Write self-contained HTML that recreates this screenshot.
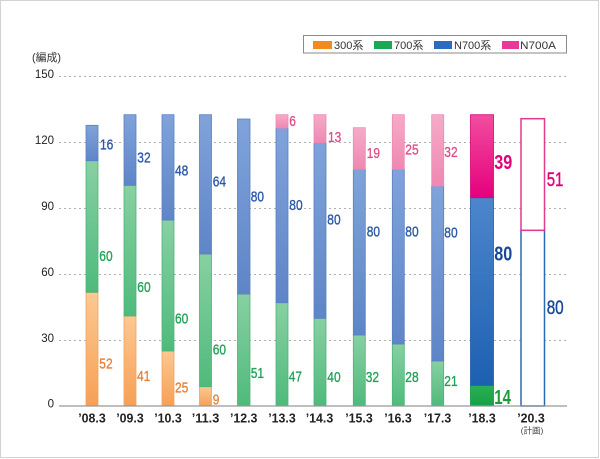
<!DOCTYPE html>
<html>
<head>
<meta charset="utf-8">
<style>
html,body{margin:0;padding:0;background:#fff;}
body{width:600px;height:459px;overflow:hidden;position:relative;}
.frame{position:absolute;left:0;top:0;width:599px;height:458px;box-sizing:border-box;border:1px solid #d2d2d2;}
svg{position:absolute;left:0;top:0;}
text{font-family:"Liberation Sans","Noto Sans CJK JP",sans-serif;}
</style>
</head>
<body>
<div class="frame"></div>
<svg width="600" height="459" viewBox="0 0 600 459" xmlns="http://www.w3.org/2000/svg">
<defs>
<linearGradient id="gO" x1="0" y1="0" x2="0" y2="1"><stop offset="0" stop-color="#fcc892"/><stop offset="1" stop-color="#f6a056"/></linearGradient>
<linearGradient id="gG" x1="0" y1="0" x2="0" y2="1"><stop offset="0" stop-color="#88d0a2"/><stop offset="1" stop-color="#4fba7c"/></linearGradient>
<linearGradient id="gB" x1="0" y1="0" x2="0" y2="1"><stop offset="0" stop-color="#80a3da"/><stop offset="1" stop-color="#5e85c7"/></linearGradient>
<linearGradient id="gP" x1="0" y1="0" x2="0" y2="1"><stop offset="0" stop-color="#f6abc8"/><stop offset="1" stop-color="#ef88b2"/></linearGradient>
<linearGradient id="gP2" x1="0" y1="0" x2="0" y2="1"><stop offset="0" stop-color="#f24d9f"/><stop offset="1" stop-color="#e6007d"/></linearGradient>
<linearGradient id="gB2" x1="0" y1="0" x2="0" y2="1"><stop offset="0" stop-color="#4d86cc"/><stop offset="1" stop-color="#1d60b1"/></linearGradient>
<linearGradient id="gG2" x1="0" y1="0" x2="0" y2="1"><stop offset="0" stop-color="#2ab055"/><stop offset="1" stop-color="#17a045"/></linearGradient>
</defs>

<text x="32" y="61" font-size="11" fill="#333" textLength="29" lengthAdjust="spacingAndGlyphs">(編成)</text>

<g stroke="#b0b0b0" stroke-width="1" stroke-dasharray="2 3">
<line x1="59" y1="76.5" x2="567" y2="76.5"/>
<line x1="59" y1="142.5" x2="567" y2="142.5"/>
<line x1="59" y1="208.5" x2="567" y2="208.5"/>
<line x1="59" y1="274.5" x2="567" y2="274.5"/>
<line x1="59" y1="340.5" x2="567" y2="340.5"/>
</g>

<g font-size="11.5" fill="#222" text-anchor="end">
<text x="54" y="78">150</text>
<text x="54" y="144">120</text>
<text x="54" y="210">90</text>
<text x="54" y="276">60</text>
<text x="54" y="342">30</text>
<text x="54" y="407.5">0</text>
</g>

<rect x="303.5" y="35.5" width="263" height="17.5" fill="#fff" stroke="#8a8a8a" stroke-width="1"/>
<rect x="313" y="41" width="19" height="8" fill="#f28a1e"/>
<rect x="374" y="41" width="18" height="8" fill="#1aa858"/>
<rect x="434" y="41" width="18" height="8" fill="#2d6bc0"/>
<rect x="502" y="41" width="17" height="8" fill="#e8389a"/>
<g font-size="11" fill="#333">
<text x="334" y="49">300系</text>
<text x="394" y="49">700系</text>
<text x="454" y="49">N700系</text>
<text x="520" y="49" textLength="36" lengthAdjust="spacingAndGlyphs">N700A</text>
</g>

<g stroke-width="0.8">
<rect x="86" y="292.3" width="12" height="113.7" fill="url(#gO)" stroke="#f2a460"/>
<rect x="86" y="160.7" width="12" height="131.6" fill="url(#gG)" stroke="#4cb579"/>
<rect x="86" y="125.3" width="12" height="35.4" fill="url(#gB)" stroke="#5a80c2"/>
<rect x="124" y="316" width="12" height="90" fill="url(#gO)" stroke="#f2a460"/>
<rect x="124" y="185.3" width="12" height="130.7" fill="url(#gG)" stroke="#4cb579"/>
<rect x="124" y="114.7" width="12" height="70.6" fill="url(#gB)" stroke="#5a80c2"/>
<rect x="162" y="351" width="12" height="55" fill="url(#gO)" stroke="#f2a460"/>
<rect x="162" y="220" width="12" height="131" fill="url(#gG)" stroke="#4cb579"/>
<rect x="162" y="114.7" width="12" height="105.3" fill="url(#gB)" stroke="#5a80c2"/>
<rect x="199.5" y="386.7" width="12" height="19.3" fill="url(#gO)" stroke="#f2a460"/>
<rect x="199.5" y="254" width="12" height="132.7" fill="url(#gG)" stroke="#4cb579"/>
<rect x="199.5" y="114.7" width="12" height="139.3" fill="url(#gB)" stroke="#5a80c2"/>
<rect x="237.5" y="294" width="12.5" height="112" fill="url(#gG)" stroke="#4cb579"/>
<rect x="237.5" y="119" width="12.5" height="175" fill="url(#gB)" stroke="#5a80c2"/>
<rect x="276" y="302.7" width="12" height="103.3" fill="url(#gG)" stroke="#4cb579"/>
<rect x="276" y="128" width="12" height="174.7" fill="url(#gB)" stroke="#5a80c2"/>
<rect x="276" y="114.7" width="12" height="13.3" fill="url(#gP)" stroke="#ec8ab2"/>
<rect x="314" y="318.3" width="12" height="87.7" fill="url(#gG)" stroke="#4cb579"/>
<rect x="314" y="142.7" width="12" height="175.6" fill="url(#gB)" stroke="#5a80c2"/>
<rect x="314" y="114.7" width="12" height="28" fill="url(#gP)" stroke="#ec8ab2"/>
<rect x="353.3" y="335" width="12" height="71" fill="url(#gG)" stroke="#4cb579"/>
<rect x="353.3" y="169.3" width="12" height="165.7" fill="url(#gB)" stroke="#5a80c2"/>
<rect x="353.3" y="127.7" width="12" height="41.6" fill="url(#gP)" stroke="#ec8ab2"/>
<rect x="392.3" y="344" width="12" height="62" fill="url(#gG)" stroke="#4cb579"/>
<rect x="392.3" y="169.3" width="12" height="174.7" fill="url(#gB)" stroke="#5a80c2"/>
<rect x="392.3" y="114.7" width="12" height="54.6" fill="url(#gP)" stroke="#ec8ab2"/>
<rect x="431.7" y="361" width="12" height="45" fill="url(#gG)" stroke="#4cb579"/>
<rect x="431.7" y="186" width="12" height="175" fill="url(#gB)" stroke="#5a80c2"/>
<rect x="431.7" y="114.7" width="12" height="71.3" fill="url(#gP)" stroke="#ec8ab2"/>
<rect x="470.5" y="385.3" width="23" height="20.7" fill="url(#gG2)" stroke="#159a40"/>
<rect x="470.5" y="197.7" width="23" height="187.6" fill="url(#gB2)" stroke="#1d5aa8"/>
<rect x="470.5" y="114.7" width="23" height="83" fill="url(#gP2)" stroke="#d8007a"/>
<rect x="521" y="230.3" width="23.5" height="175.7" fill="#fff" stroke="#2a6ab3" stroke-width="1.5"/>
<rect x="521" y="118.7" width="23.5" height="111.6" fill="#fff" stroke="#e2398c" stroke-width="1.5"/>
</g>

<line x1="59" y1="406" x2="567" y2="406" stroke="#999" stroke-width="1.2"/>

<g font-size="15" stroke-width="0.35">
<g fill="#2b58a6" stroke="#2b58a6">
<text x="100" y="149.7" textLength="13.3" lengthAdjust="spacingAndGlyphs">16</text>
<text x="137.3" y="162.7" textLength="13.3" lengthAdjust="spacingAndGlyphs">32</text>
<text x="175" y="175.4" textLength="13.3" lengthAdjust="spacingAndGlyphs">48</text>
<text x="212.7" y="186.7" textLength="13.3" lengthAdjust="spacingAndGlyphs">64</text>
<text x="250.7" y="201.4" textLength="13.3" lengthAdjust="spacingAndGlyphs">80</text>
<text x="289.3" y="210.1" textLength="13.3" lengthAdjust="spacingAndGlyphs">80</text>
<text x="327.3" y="224.7" textLength="13.3" lengthAdjust="spacingAndGlyphs">80</text>
<text x="366.7" y="236.4" textLength="13.3" lengthAdjust="spacingAndGlyphs">80</text>
<text x="405.3" y="236.4" textLength="13.3" lengthAdjust="spacingAndGlyphs">80</text>
<text x="444.3" y="237.7" textLength="13.3" lengthAdjust="spacingAndGlyphs">80</text>
</g>
<g fill="#22a259" stroke="#22a259">
<text x="99.3" y="261.1" textLength="13.3" lengthAdjust="spacingAndGlyphs">60</text>
<text x="137.3" y="292.1" textLength="13.3" lengthAdjust="spacingAndGlyphs">60</text>
<text x="175" y="323.7" textLength="13.3" lengthAdjust="spacingAndGlyphs">60</text>
<text x="212.7" y="354.7" textLength="13.3" lengthAdjust="spacingAndGlyphs">60</text>
<text x="250.7" y="378.1" textLength="13.3" lengthAdjust="spacingAndGlyphs">51</text>
<text x="288.7" y="381.4" textLength="13.3" lengthAdjust="spacingAndGlyphs">47</text>
<text x="327.3" y="382.1" textLength="13.3" lengthAdjust="spacingAndGlyphs">40</text>
<text x="365.7" y="382.1" textLength="13.3" lengthAdjust="spacingAndGlyphs">32</text>
<text x="405.3" y="382.1" textLength="13.3" lengthAdjust="spacingAndGlyphs">28</text>
<text x="444.3" y="386.1" textLength="13.3" lengthAdjust="spacingAndGlyphs">21</text>
</g>
<g fill="#e4823a" stroke="#e4823a">
<text x="99.3" y="368.7" textLength="13.3" lengthAdjust="spacingAndGlyphs">52</text>
<text x="137" y="381.1" textLength="13.3" lengthAdjust="spacingAndGlyphs">41</text>
<text x="175" y="392.7" textLength="13.3" lengthAdjust="spacingAndGlyphs">25</text>
<text x="212.7" y="404.4" textLength="6.6" lengthAdjust="spacingAndGlyphs">9</text>
</g>
<g fill="#df4f89" stroke="#df4f89">
<text x="289.3" y="126.1" textLength="6.6" lengthAdjust="spacingAndGlyphs">6</text>
<text x="328" y="142.1" textLength="13.3" lengthAdjust="spacingAndGlyphs">13</text>
<text x="366.7" y="158.1" textLength="13.3" lengthAdjust="spacingAndGlyphs">19</text>
<text x="405.3" y="154.7" textLength="13.3" lengthAdjust="spacingAndGlyphs">25</text>
<text x="444.3" y="157.1" textLength="13.3" lengthAdjust="spacingAndGlyphs">32</text>
</g>
</g>
<g font-size="20" font-weight="bold">
<text x="494.3" y="169.2" fill="#e0007a" textLength="18" lengthAdjust="spacingAndGlyphs">39</text>
<text x="494.3" y="260.5" fill="#1a4796" textLength="18" lengthAdjust="spacingAndGlyphs">80</text>
<text x="494.3" y="403.9" fill="#1c9a3c" textLength="16.7" lengthAdjust="spacingAndGlyphs">14</text>
</g>
<g font-size="19" stroke-width="0.4">
<text x="546.7" y="186.1" fill="#e0007a" stroke="#e0007a" textLength="16.7" lengthAdjust="spacingAndGlyphs">51</text>
<text x="546.7" y="314.1" fill="#1a4796" stroke="#1a4796" textLength="17" lengthAdjust="spacingAndGlyphs">80</text>
</g>

<g font-size="13" font-weight="bold" fill="#222" text-anchor="middle">
<text x="92" y="422.5" textLength="27.5" lengthAdjust="spacingAndGlyphs">’08.3</text>
<text x="130" y="422.5" textLength="27.5" lengthAdjust="spacingAndGlyphs">’09.3</text>
<text x="168" y="422.5" textLength="27.5" lengthAdjust="spacingAndGlyphs">’10.3</text>
<text x="205.5" y="422.5" textLength="27.5" lengthAdjust="spacingAndGlyphs">’11.3</text>
<text x="243.7" y="422.5" textLength="27.5" lengthAdjust="spacingAndGlyphs">’12.3</text>
<text x="282" y="422.5" textLength="27.5" lengthAdjust="spacingAndGlyphs">’13.3</text>
<text x="319.5" y="422.5" textLength="27.5" lengthAdjust="spacingAndGlyphs">’14.3</text>
<text x="359" y="422.5" textLength="27.5" lengthAdjust="spacingAndGlyphs">’15.3</text>
<text x="398" y="422.5" textLength="27.5" lengthAdjust="spacingAndGlyphs">’16.3</text>
<text x="437.5" y="422.5" textLength="27.5" lengthAdjust="spacingAndGlyphs">’17.3</text>
<text x="482" y="422.5" textLength="27.5" lengthAdjust="spacingAndGlyphs">’18.3</text>
<text x="531" y="422.5" textLength="27.5" lengthAdjust="spacingAndGlyphs">’20.3</text>
</g>
<text x="532" y="433.5" font-size="8.5" fill="#444" text-anchor="middle">(計画)</text>
</svg>
</body>
</html>
